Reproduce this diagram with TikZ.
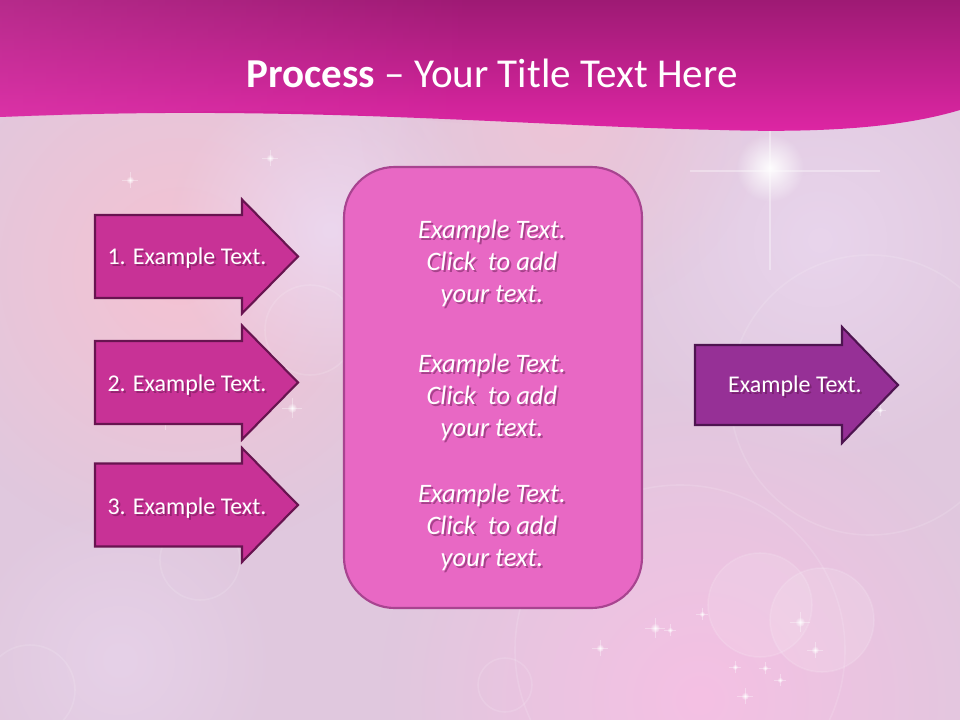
\documentclass[tikz,border=0pt]{standalone}
\usepackage{fontspec}
\setmainfont{Carlito}
\usetikzlibrary{fadings}
\tikzfading[name=softglow, inner color=transparent!0, outer color=transparent!100]

\definecolor{bgbase}{RGB}{224,200,222}
\definecolor{bgpink}{RGB}{246,194,210}
\definecolor{bglav}{RGB}{236,218,242}
\definecolor{bgrose}{RGB}{246,192,228}
\definecolor{hdrtop}{RGB}{158,26,116}
\definecolor{hdrbot}{RGB}{222,38,164}
\definecolor{hdrleft}{RGB}{228,74,182}
\definecolor{arrowfill}{RGB}{200,50,150}
\definecolor{arrowline}{RGB}{104,20,80}
\definecolor{outfill}{RGB}{150,48,150}
\definecolor{outln}{RGB}{78,20,80}
\definecolor{boxfill}{RGB}{232,104,196}
\definecolor{boxline}{RGB}{168,68,144}
\definecolor{txtshadow}{RGB}{90,20,70}

\tikzset{
  arrowshape/.style={fill=arrowfill, draw=arrowline, line width=1.6pt, line join=miter},
  outshape/.style={fill=outfill, draw=outln, line width=1.6pt, line join=miter},
  boxshape/.style={fill=boxfill, draw=boxline, line width=1.6pt, rounded corners=38pt},
  lbl/.style={inner sep=0pt, font=\fontsize{18}{22}\selectfont, anchor=base},
  boxtxt/.style={inner sep=0pt, align=center, font=\itshape\fontsize{20}{24}\selectfont},
  ring/.style={draw=white, draw opacity=0.13, line width=1.2pt},
  glow/.style={fill=white, path fading=softglow},
}

% name, x, y, style, text : white text with a soft dark shadow
\newcommand{\shtxt}[5]{%
  \node[#4, text=txtshadow, opacity=0.45] at (#2+2,#3+2) {#5};
  \node[#4, text=white] (#1) at (#2,#3) {#5};
}
% arrow: left x, centre y, body half height, head base x, tip x, head half height
\newcommand{\arrowpath}[6]{%
  (#1,#2-#3) -- (#4,#2-#3) -- (#4,#2-#6) -- (#5,#2) -- (#4,#2+#6) -- (#4,#2+#3) -- (#1,#2+#3) -- cycle
}
\newcommand{\sparkle}[3]{% x, y, size
  \fill[glow, opacity=0.9] (#1,#2) circle (#3);
  \draw[white, opacity=0.35, line width=0.5pt] (#1-2*#3,#2) -- (#1+2*#3,#2) (#1,#2-2*#3) -- (#1,#2+2*#3);
}

\begin{document}
\begin{tikzpicture}[x=0.75pt, y=-0.75pt]
\useasboundingbox (0,0) rectangle (960,720);

% ---------- background ----------
\fill[bgbase] (0,0) rectangle (960,720);
\fill[bgpink, path fading=softglow, opacity=0.95] (180,270) circle (280);
\fill[bglav, path fading=softglow, opacity=0.85] (330,230) circle (160);
\fill[bglav, path fading=softglow, opacity=0.7] (820,240) circle (230);
\fill[bgrose, path fading=softglow, opacity=0.95] (700,700) circle (320);
\fill[bgpink, path fading=softglow, opacity=0.6] (560,120) circle (200);
\fill[bglav, path fading=softglow, opacity=0.5] (120,660) circle (160);

% bokeh rings
\draw[ring] (870,395) circle (140);
\draw[ring] (760,605) circle (52);
\draw[ring] (822,620) circle (52);
\draw[ring] (505,685) circle (27);
\draw[ring] (680,650) circle (165);
\draw[ring] (30,690) circle (45);
\draw[ring] (200,560) circle (40);
\draw[ring] (310,330) circle (45);
\fill[white, opacity=0.12] (822,620) circle (52);
\fill[white, opacity=0.10] (760,605) circle (52);

% sparkles
\fill[glow, opacity=0.95] (770,168) circle (34);
\draw[white, opacity=0.35, line width=1pt] (690,171) -- (880,171);
\draw[white, opacity=0.35, line width=1pt] (770,130) -- (770,270);
\sparkle{130}{180}{4}
\sparkle{270}{158}{4}
\sparkle{165}{420}{5}
\sparkle{292}{408}{5}
\sparkle{655}{628}{5}
\sparkle{670}{630}{3}
\sparkle{600}{648}{4}
\sparkle{702}{614}{3}
\sparkle{735}{667}{3}
\sparkle{765}{668}{3}
\sparkle{780}{680}{3}
\sparkle{745}{696}{4}
\sparkle{800}{622}{5}
\sparkle{815}{650}{4}
\sparkle{880}{410}{3}
\sparkle{520}{560}{3}

% ---------- header ----------
\path[top color=hdrtop, bottom color=hdrbot]
  (0,0) -- (960,0) -- (960,110)
  .. controls (900,128) and (820,133) .. (720,130)
  .. controls (520,126) and (300,104) .. (0,117) -- cycle;
\fill[hdrleft, opacity=0.35, path fading=east]
  (0,0) -- (480,0) -- (480,125) .. controls (300,108) .. (0,117) -- cycle;
\node[font=\fontsize{30.8}{36}\selectfont, text=white, anchor=base, inner sep=0pt] (title)
  at (492,88) {\textbf{Process} -- Your Title Text Here};

% ---------- left arrows ----------
\draw[arrowshape] \arrowpath{95}{256.5}{41.5}{242}{298}{57};
\draw[arrowshape] \arrowpath{95}{382.5}{41.5}{242}{298}{57};
\draw[arrowshape] \arrowpath{95}{505}{41.5}{242}{298}{57};
\shtxt{a1}{187}{265}{lbl}{1. Example Text.}
\shtxt{a2}{187}{391}{lbl}{2. Example Text.}
\shtxt{a3}{187}{514}{lbl}{3. Example Text.}

% ---------- central rounded box ----------
\draw[boxshape] (344,167) rectangle (642,608);
\shtxt{t1}{492}{263}{boxtxt}{Example Text.\\Click\ \ to add\\your text.}
\shtxt{t2}{492}{397}{boxtxt}{Example Text.\\Click\ \ to add\\your text.}
\shtxt{t3}{492}{527}{boxtxt}{Example Text.\\Click\ \ to add\\your text.}

% ---------- output arrow ----------
\draw[outshape] \arrowpath{695}{385}{40}{842}{898}{58};
\shtxt{out}{795}{392}{lbl}{Example Text.}
\end{tikzpicture}
\end{document}
